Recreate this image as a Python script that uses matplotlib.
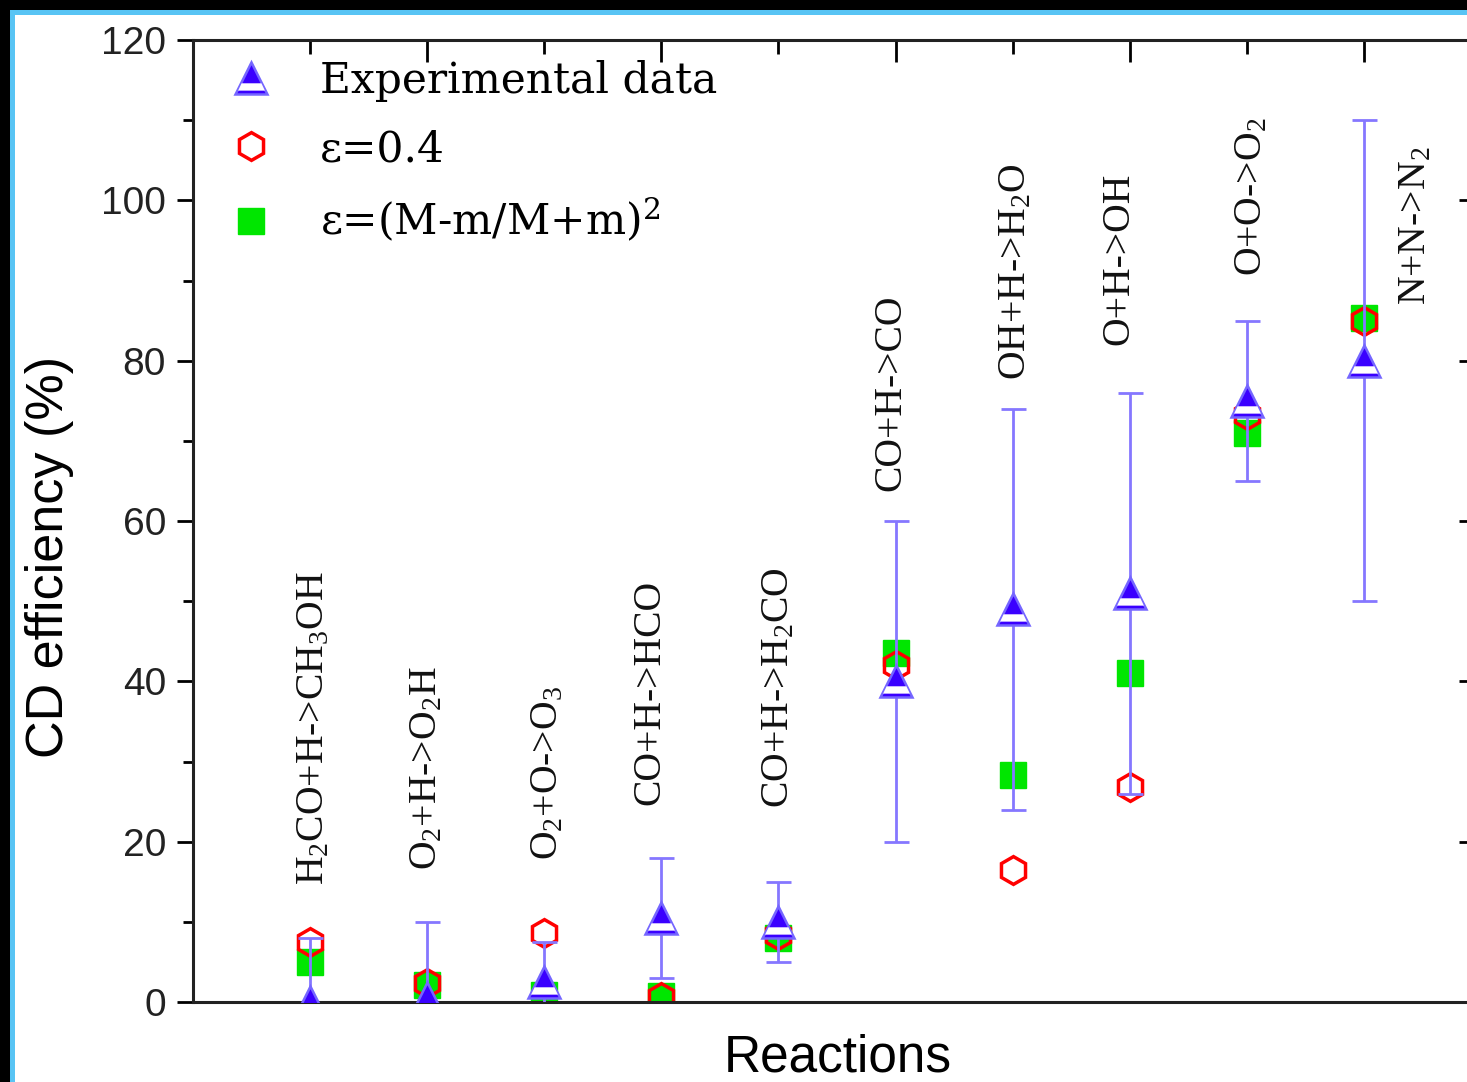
import matplotlib
matplotlib.use("Agg")
import matplotlib.pyplot as plt
from matplotlib.patches import Rectangle
from matplotlib.path import Path
from matplotlib.ticker import FixedLocator, MultipleLocator

# data
reactions = [r"H$_2$CO+H->CH$_3$OH", r"O$_2$+H->O$_2$H", r"O$_2$+O->O$_3$", "CO+H->HCO",
             r"CO+H->H$_2$CO", "CO+H->CO", r"OH+H->H$_2$O", "O+H->OH",
             r"O+O->O$_2$", r"N+N->N$_2$"]
exp_val = [0, 0.5, 2.5, 10.5, 10, 40, 49, 51, 75, 80]
exp_err = [8, 9.5, 5, 7.5, 5, 20, 25, 25, 10, 30]
eps04 = [7.5, 2.4, 8.6, 0.6, 8.3, 42, 16.5, 26.8, 73.2, 85]
eps_mass = [5, 2.1, 0.9, 0.7, 8, 43.5, 28.3, 41, 71, 85.3]
# where each reaction name sits (category units, % units)
label_x = [0.03, 0.0, 0.03, -0.1, 0.0, -0.04, 0.03, -0.09, 0.04, 0.44]
label_y = [14.6, 16.5, 17.7, 24.6, 24.2, 63.8, 77.6, 82, 90.6, 87]

plt.rcParams["mathtext.default"] = "regular"
W, H = 1467, 1082
fig = plt.figure(figsize=(W / 100, H / 100), dpi=100, facecolor="black")
fig.patches.append(Rectangle((10 / W, 0), 1, (H - 10) / H, transform=fig.transFigure,
                             facecolor="#58c4f4", edgecolor="none", zorder=-2))
fig.patches.append(Rectangle((15 / W, 0), 1, (H - 15) / H, transform=fig.transFigure,
                             facecolor="white", edgecolor="none", zorder=-1))

ax = fig.add_axes([193 / W, 80 / H, (1481 - 193) / W, (1002 - 40) / H])
ax.patch.set_alpha(0)
x = list(range(len(reactions)))

# white band in the lower part of the Origin-style half filled triangle
# (first lone MOVETO keeps the same scale as the '^' marker)
band = Path([(0, 1), (-0.62, -0.3), (0.62, -0.3), (0.84, -0.76), (-0.84, -0.76), (-0.62, -0.3)],
            [Path.MOVETO, Path.MOVETO, Path.LINETO, Path.LINETO, Path.LINETO, Path.CLOSEPOLY])

sq = ax.plot(x, eps_mass, "s", ms=19, color="#00e600", mec="#00e600", zorder=1)[0]
hx = ax.plot(x, eps04, "h", ms=20, mfc="none", mec="#ff0000", mew=2.5, zorder=2)[0]
ax.errorbar(x, exp_val, yerr=exp_err, fmt="none", ecolor="#8577ff", elinewidth=2,
            capsize=9, capthick=2, zorder=3)
tri = ax.plot(x, exp_val, "^", ms=23, mfc="#3a00ff", mec="#7566ff", mew=1.8, zorder=4)[0]
tri_band = ax.plot(x, exp_val, marker=band, ls="none", ms=23, mfc="white", mec="none",
                   zorder=5)[0]

for i, name in enumerate(reactions):
    ax.text(i + label_x[i], label_y[i], name, rotation=90, ha="center", va="bottom",
            fontsize=28.5, family="Liberation Serif", color="#111")

ax.set_xlim(-1, 10)
ax.set_ylim(0, 120)
ax.yaxis.set_major_locator(MultipleLocator(20))
ax.yaxis.set_minor_locator(MultipleLocator(10))
ax.xaxis.set_major_locator(FixedLocator([1, 3, 5, 7, 9]))
ax.xaxis.set_minor_locator(FixedLocator([0, 2, 4, 6, 8]))
ax.tick_params(axis="x", which="both", bottom=False, top=True, labelbottom=False,
               direction="in", width=2)
ax.tick_params(axis="y", which="both", left=True, right=False, width=2, direction="out")
ax.tick_params(axis="x", which="major", length=16)
ax.tick_params(axis="x", which="minor", length=10)
ax.tick_params(axis="y", which="major", length=11.5, labelsize=28, pad=8, labelcolor="#222")
ax.tick_params(axis="y", which="minor", length=7)
for lab in ax.get_yticklabels():
    lab.set_family("Liberation Sans")
for sp in ax.spines.values():
    sp.set_linewidth(2.2)
    sp.set_color("#222")

# right axis: inward ticks only (spine is just past the image edge)
rax = ax.secondary_yaxis("right")
rax.yaxis.set_major_locator(MultipleLocator(20))
rax.yaxis.set_minor_locator(MultipleLocator(10))
rax.tick_params(which="both", direction="in", width=2, labelright=False)
rax.tick_params(which="major", length=16)
rax.tick_params(which="minor", length=10)

ax.set_ylabel("CD efficiency (%)", fontsize=37.5, family="Liberation Sans")
ax.yaxis.set_label_coords((74 - 193) / 1288, (1002 - 557) / 962)
ax.set_xlabel("Reactions", fontsize=37, family="Liberation Sans")
ax.xaxis.set_label_coords((838 - 193) / 1288, -(1034 - 1002) / 962)

ax.legend(handles=[(tri, tri_band), hx, sq],
          labels=["Experimental data", "ε=0.4", r"ε=(M-m/M+m)$^2$"],
          loc="upper left", bbox_to_anchor=(36 / 1288, 1 - 20 / 962),
          frameon=False, prop={"family": "DejaVu Serif", "size": 30.5},
          handlelength=1.05, handletextpad=1.1, borderaxespad=0, borderpad=0,
          labelspacing=0.62)

fig.savefig("out.png", dpi=100, facecolor=fig.get_facecolor())
